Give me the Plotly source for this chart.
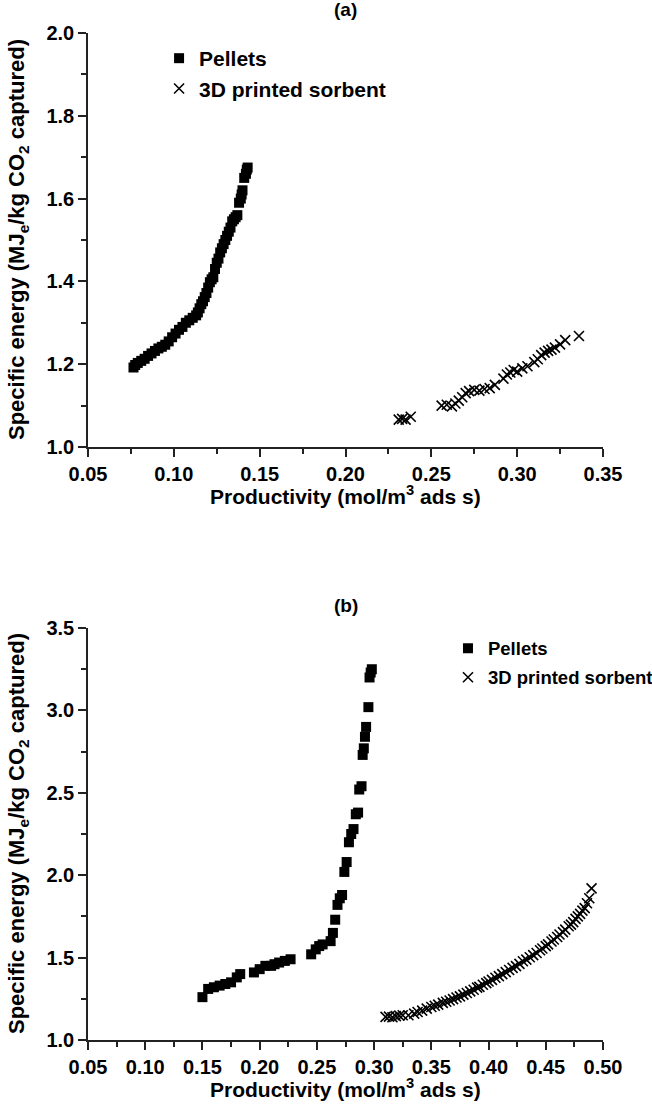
import plotly.graph_objects as go

# ---------------- data ----------------
pellets_a_x = [0.0765, 0.0775, 0.079, 0.081, 0.083, 0.085, 0.087, 0.089, 0.091, 0.093,
               0.095, 0.097, 0.099, 0.101, 0.103, 0.105, 0.107, 0.109, 0.111, 0.113,
               0.114, 0.115, 0.116, 0.117, 0.118, 0.119, 0.120, 0.121, 0.122, 0.123,
               0.124, 0.125, 0.126, 0.127, 0.128, 0.129, 0.130, 0.131, 0.132, 0.133,
               0.134, 0.135, 0.136, 0.137, 0.138, 0.139, 0.1395, 0.140, 0.141, 0.142,
               0.1425, 0.143]
pellets_a_y = [1.192, 1.198, 1.203, 1.208, 1.213, 1.220, 1.226, 1.232, 1.238, 1.242,
               1.247, 1.255, 1.265, 1.274, 1.283, 1.290, 1.300, 1.306, 1.312, 1.318,
               1.325, 1.335, 1.345, 1.352, 1.362, 1.372, 1.385, 1.398, 1.405, 1.410,
               1.430, 1.445, 1.455, 1.470, 1.480, 1.490, 1.500, 1.510, 1.520, 1.530,
               1.545, 1.550, 1.555, 1.560, 1.590, 1.600, 1.610, 1.620, 1.650, 1.660,
               1.670, 1.675]

printed_a_x = [0.231, 0.233, 0.235, 0.238, 0.256, 0.259, 0.262, 0.264, 0.266, 0.268,
               0.270, 0.272, 0.275, 0.278, 0.281, 0.284, 0.287, 0.292, 0.294, 0.296,
               0.298, 0.300, 0.303, 0.306, 0.310, 0.312, 0.314, 0.316, 0.318, 0.320,
               0.322, 0.325, 0.328, 0.336]
printed_a_y = [1.066, 1.068, 1.066, 1.073, 1.100, 1.102, 1.098, 1.105, 1.112, 1.120,
               1.130, 1.135, 1.138, 1.136, 1.140, 1.142, 1.150, 1.165, 1.175, 1.180,
               1.186, 1.182, 1.190, 1.195, 1.205, 1.212, 1.222, 1.228, 1.232, 1.235,
               1.240, 1.248, 1.258, 1.268]

pellets_b_x = [0.150, 0.155, 0.160, 0.165, 0.170, 0.175, 0.180, 0.183, 0.195, 0.200,
               0.205, 0.210, 0.213, 0.217, 0.222, 0.227, 0.245, 0.249, 0.252, 0.255,
               0.262, 0.264, 0.266, 0.268, 0.270, 0.272, 0.274, 0.276, 0.278, 0.280,
               0.282, 0.284, 0.286, 0.287, 0.289, 0.290, 0.291, 0.292, 0.293, 0.295,
               0.296, 0.297, 0.298]
pellets_b_y = [1.26, 1.31, 1.32, 1.33, 1.34, 1.35, 1.38, 1.40, 1.41, 1.43,
               1.45, 1.45, 1.46, 1.47, 1.48, 1.49, 1.52, 1.55, 1.57, 1.58,
               1.60, 1.65, 1.73, 1.82, 1.86, 1.88, 2.02, 2.08, 2.20, 2.25,
               2.28, 2.37, 2.38, 2.52, 2.54, 2.73, 2.77, 2.84, 2.90, 3.02,
               3.20, 3.23, 3.25]

printed_b_x = [0.310, 0.313, 0.316, 0.319, 0.322, 0.325, 0.330, 0.335, 0.338, 0.342,
               0.346, 0.350, 0.353, 0.356, 0.360, 0.363, 0.366, 0.369, 0.372, 0.375,
               0.378, 0.381, 0.384, 0.387, 0.390, 0.392, 0.395, 0.398, 0.400, 0.403,
               0.406, 0.409, 0.412, 0.415, 0.418, 0.421, 0.424, 0.427, 0.430, 0.433,
               0.436, 0.439, 0.442, 0.445, 0.447, 0.450, 0.452, 0.455, 0.457, 0.460,
               0.462, 0.465, 0.467, 0.470, 0.472, 0.474, 0.476, 0.478, 0.480, 0.482,
               0.484, 0.486, 0.488, 0.490]
printed_b_y = [1.140, 1.142, 1.138, 1.145, 1.148, 1.150, 1.150, 1.160, 1.170, 1.178,
               1.190, 1.200, 1.208, 1.215, 1.225, 1.232, 1.240, 1.248, 1.258, 1.265,
               1.275, 1.285, 1.295, 1.305, 1.318, 1.322, 1.335, 1.345, 1.355, 1.365,
               1.378, 1.388, 1.400, 1.412, 1.425, 1.438, 1.448, 1.462, 1.478, 1.488,
               1.502, 1.515, 1.528, 1.545, 1.555, 1.570, 1.580, 1.598, 1.610, 1.625,
               1.640, 1.655, 1.670, 1.690, 1.700, 1.715, 1.735, 1.750, 1.765, 1.785,
               1.800, 1.830, 1.860, 1.920]

series_names = ["Pellets", "3D printed sorbent"]
panel_titles = ["(a)", "(b)"]
x_title = "Productivity (mol/m<sup>3</sup> ads s)"
y_title = "Specific energy (MJ<sub>e</sub>/kg CO<sub>2</sub> captured)"

# ---------------- styling ----------------
FONT = "Liberation Sans, Arial, sans-serif"
AX = "#222222"
sq = dict(symbol="square", size=10, color="black", line=dict(width=0))
xm = dict(symbol="x-thin", size=10, color="black", line=dict(width=1.6, color="black"))

fig = go.Figure()
fig.add_trace(go.Scatter(x=pellets_a_x, y=pellets_a_y, mode="markers", marker=sq,
                         name=series_names[0], xaxis="x", yaxis="y", legend="legend",
                         legendgroup="a1"))
fig.add_trace(go.Scatter(x=printed_a_x, y=printed_a_y, mode="markers", marker=xm,
                         name=series_names[1], xaxis="x", yaxis="y", legend="legend",
                         legendgroup="a2"))
fig.add_trace(go.Scatter(x=pellets_b_x, y=pellets_b_y, mode="markers", marker=sq,
                         name=series_names[0], xaxis="x2", yaxis="y2", legend="legend2",
                         legendgroup="b1"))
fig.add_trace(go.Scatter(x=printed_b_x, y=printed_b_y, mode="markers", marker=xm,
                         name=series_names[1], xaxis="x2", yaxis="y2", legend="legend2",
                         legendgroup="b2"))

def axis(rng, dtick, domain, anchor, tickformat):
    return dict(range=rng, dtick=dtick, tick0=rng[0], domain=domain, anchor=anchor,
                showline=True, linecolor=AX, linewidth=1.5, mirror=False,
                showgrid=False, zeroline=False,
                ticks="outside", ticklen=8, tickwidth=1.5, tickcolor=AX,
                minor=dict(ticks="outside", ticklen=5, tickwidth=1.5, tickcolor=AX,
                           dtick=dtick / 2, tick0=rng[0]),
                tickformat=tickformat,
                tickfont=dict(family=FONT, size=20, color="black", weight="bold"))

ya_dom = [0.5889, 1.0]
yb_dom = [0.0, 0.4091]

def leg(x, y, size, gap):
    return dict(x=x, y=y, xanchor="left", yanchor="top",
                font=dict(family=FONT, size=size, color="black", weight="bold"),
                bgcolor="rgba(0,0,0,0)", traceorder="grouped", tracegroupgap=gap,
                itemsizing="trace")

fig.update_layout(
    width=652, height=1120,
    margin=dict(l=88, r=49, t=33, b=80, autoexpand=False),
    paper_bgcolor="white", plot_bgcolor="white",
    font=dict(family=FONT, color="black", size=18),
    xaxis=axis([0.05, 0.35], 0.05, [0, 1], "y", ".2f"),
    yaxis=axis([1.0, 2.0], 0.2, ya_dom, "x", ".1f"),
    xaxis2=axis([0.05, 0.50], 0.05, [0, 1], "y2", ".2f"),
    yaxis2=axis([1.0, 3.5], 0.5, yb_dom, "x2", ".1f"),
    legend=leg(0.138, 0.995, 21, 0),
    legend2=leg(0.699, 0.4075, 18.5, 2),
    showlegend=True,
)

ann = []
# panel titles
ann.append(dict(text="<b>%s</b>" % panel_titles[0], x=0.5, y=1.0, xref="paper", yref="paper",
                xanchor="center", yanchor="bottom", yshift=11, showarrow=False,
                font=dict(family=FONT, size=19, color="black")))
ann.append(dict(text="<b>%s</b>" % panel_titles[1], x=0.5, y=yb_dom[1], xref="paper", yref="paper",
                xanchor="center", yanchor="bottom", yshift=10, showarrow=False,
                font=dict(family=FONT, size=19, color="black")))
# axis titles
for dom in (ya_dom, yb_dom):
    ann.append(dict(text="<b>%s</b>" % y_title, x=0, y=(dom[0] + dom[1]) / 2,
                    xref="paper", yref="paper", xanchor="center", yanchor="middle",
                    xshift=-70, textangle=-90, showarrow=False,
                    font=dict(family=FONT, size=22, color="black")))
    ann.append(dict(text="<b>%s</b>" % x_title, x=0.5, y=dom[0], xref="paper", yref="paper",
                    xanchor="center", yanchor="middle", yshift=-48, showarrow=False,
                    font=dict(family=FONT, size=21, color="black")))
fig.update_layout(annotations=ann)

fig.write_html("out.html")
